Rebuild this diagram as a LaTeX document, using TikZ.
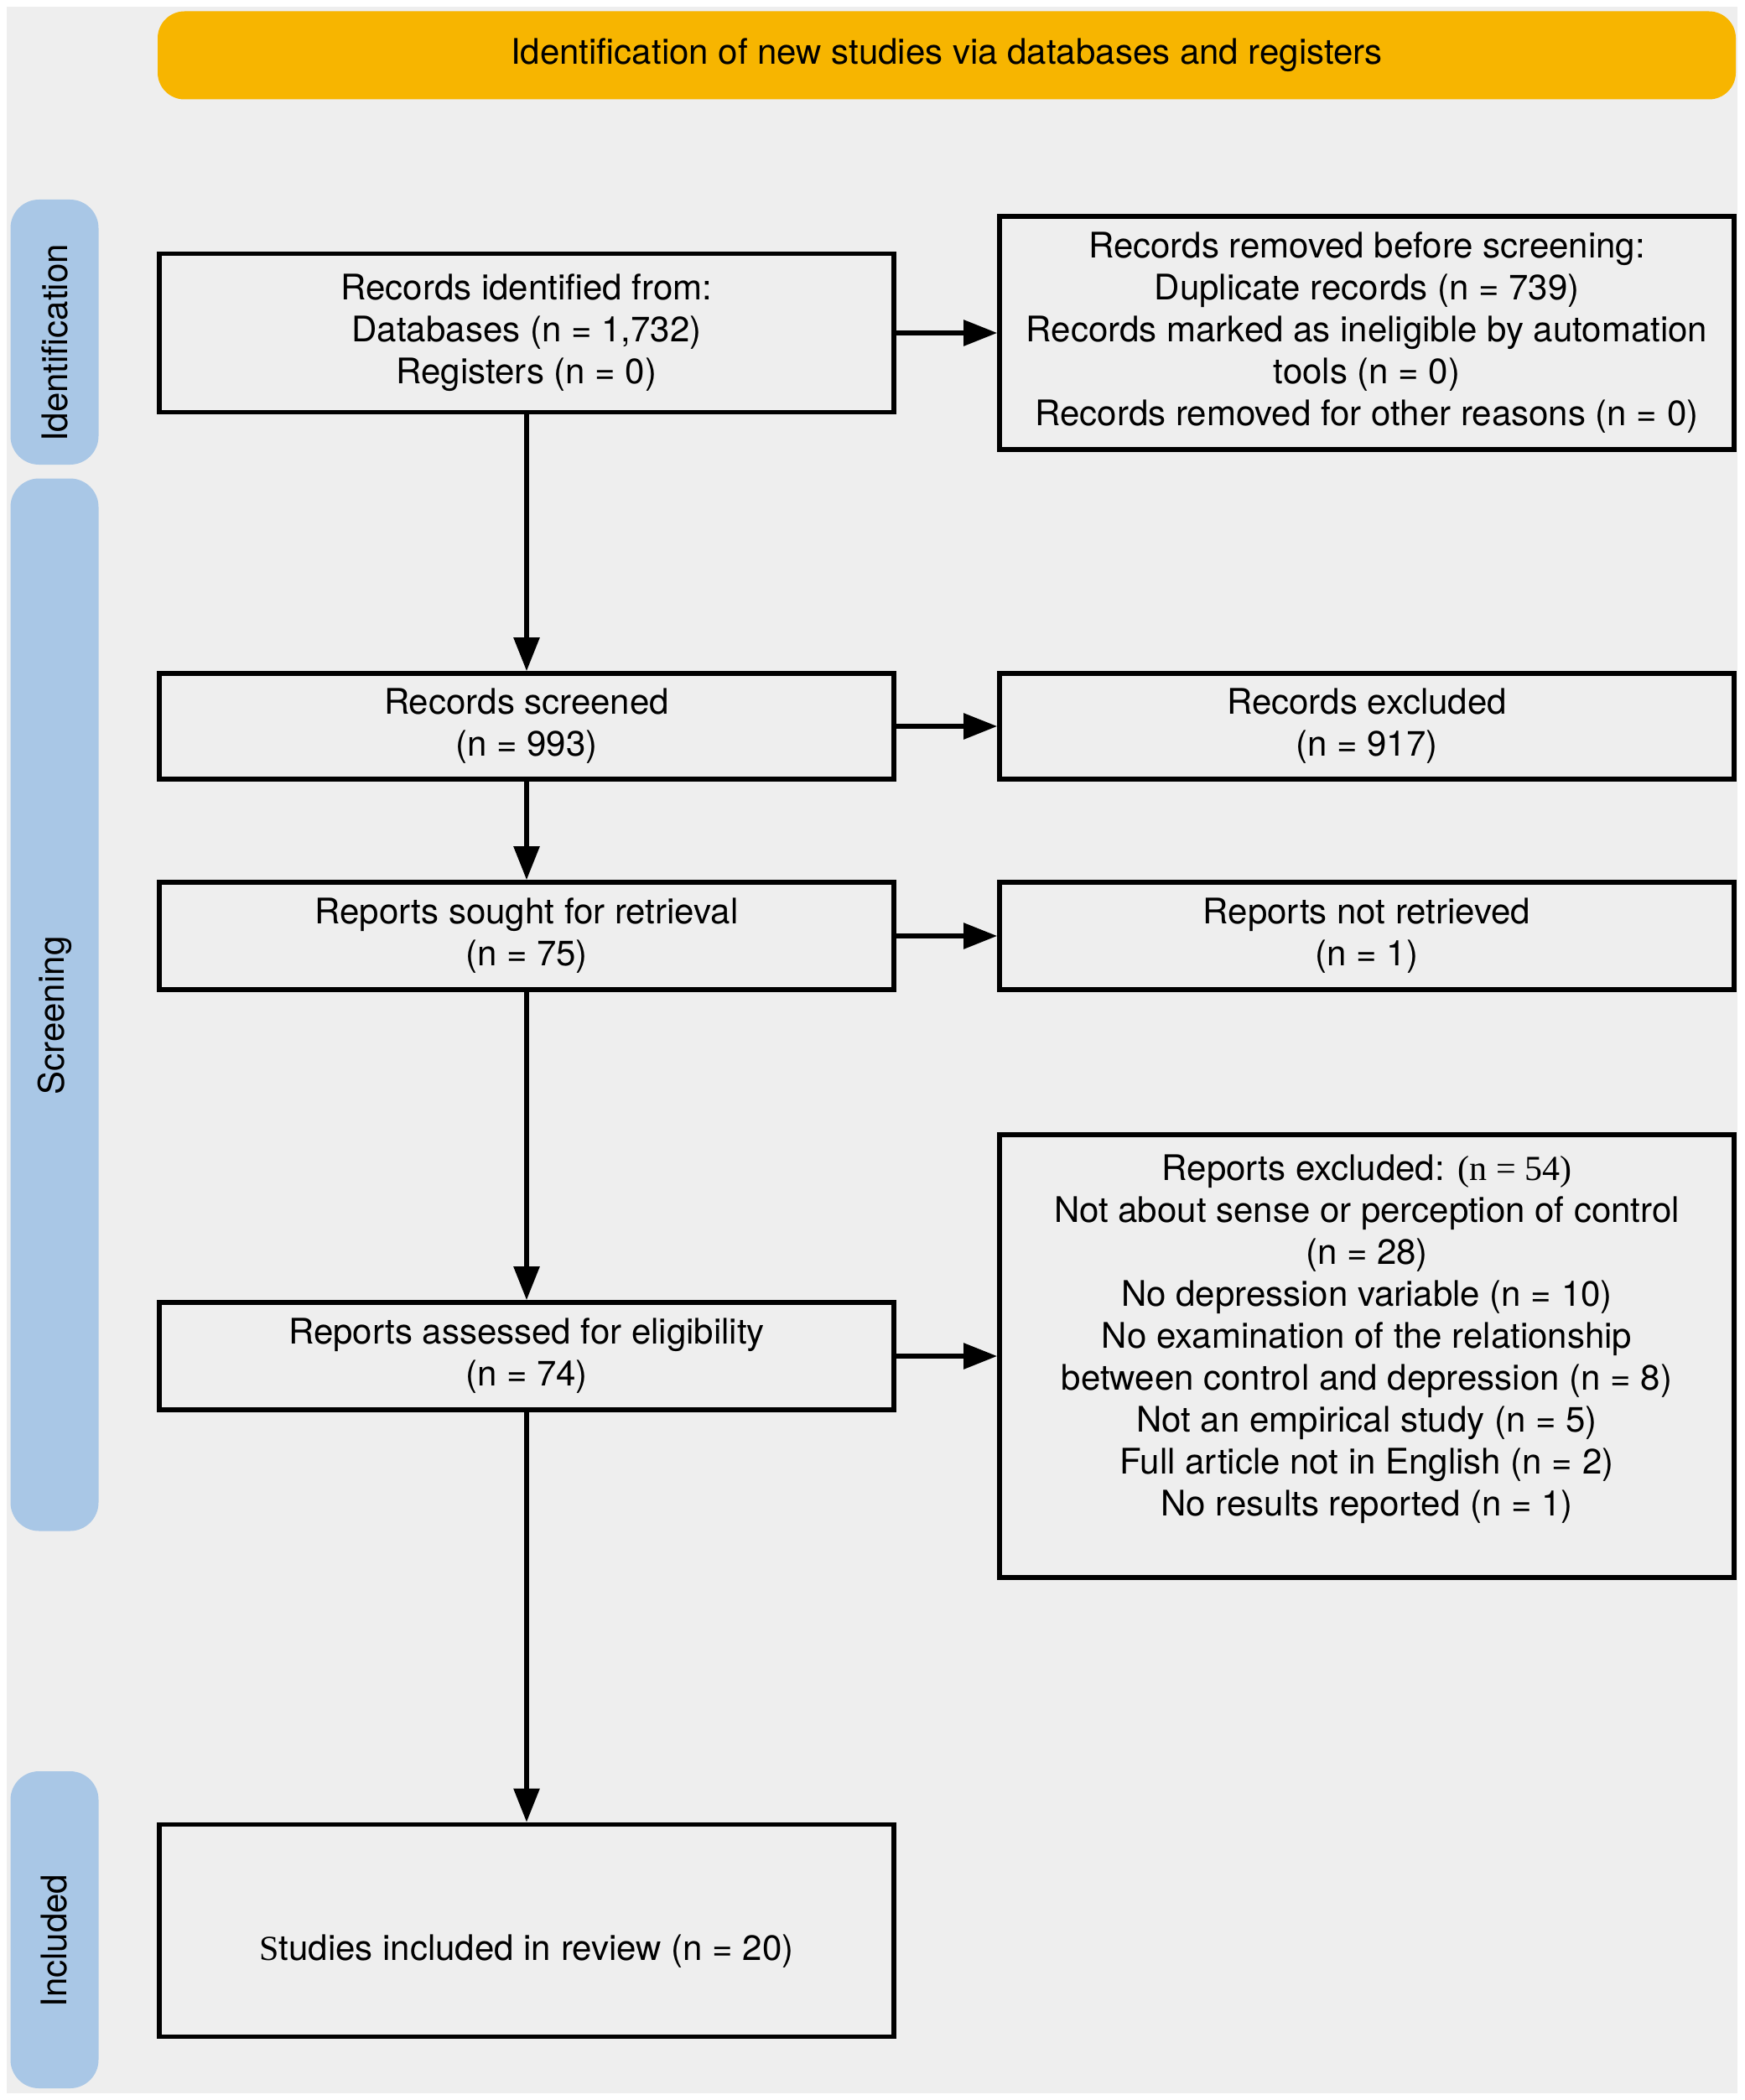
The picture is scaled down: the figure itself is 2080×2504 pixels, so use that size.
\documentclass[tikz,border=0pt]{standalone}
\usepackage{fontspec}
\setmainfont{TeX Gyre Heros}
\newfontfamily\serifpart{Liberation Serif}
\usetikzlibrary{arrows.meta}

\begin{document}
\begin{tikzpicture}[x=0.25pt,y=-0.25pt,font=\fontsize{10.5}{12.5}\selectfont,
  box/.style={draw,line width=1.4pt,align=center,minimum width=219pt,inner sep=2pt},
  stage/.style={fill=stageblue,rounded corners=8.5pt,rotate=90,minimum height=26.25pt,inner sep=0pt,execute at end node={\hspace{6.5pt}}},
  flow/.style={line width=1.4pt,-{Triangle[length=10pt,width=7.5pt]}}]
% Define PRISMA colours
\definecolor{bggray}{RGB}{238,238,238}
\definecolor{headorange}{RGB}{247,181,0}
\definecolor{stageblue}{RGB}{169,199,230}

% Draw background
\useasboundingbox (0,0) rectangle (2080,2504);
\fill[bggray] (8,8) rectangle (2072,2496);

% Draw header and stages
\node[fill=headorange,rounded corners=8pt,minimum width=470.5pt,minimum height=26.25pt] (head) at (1129,66) {Identification of new studies via databases and registers};
\node[stage,minimum width=79pt] (ident) at (65,396) {Identification};
\node[stage,minimum width=313.75pt] (screen) at (65,1198) {Screening};
\node[stage,minimum width=94.5pt] (incl) at (65,2301) {Included};

% Draw main column
\node[box,minimum height=47.25pt] (found) at (628,397) {Records identified from:\\Databases (n = 1,732)\\Registers (n = 0)};
\node[box,minimum height=31.5pt] (screened) at (628,866) {Records screened\\(n = 993)};
\node[box,minimum height=32pt] (sought) at (628,1116) {Reports sought for retrieval\\(n = 75)};
\node[box,minimum height=32pt] (assessed) at (628,1617) {Reports assessed for eligibility\\(n = 74)};
\node[box,minimum height=63.25pt,text height=20pt,text depth=2.5pt] (studies) at (628,2302) {{\serifpart S}tudies included in review (n = 20)};

% Draw side column
\node[box,minimum height=69.5pt] (removed) at (1630,397) {Records removed before screening:\\Duplicate records (n = 739)\\Records marked as ineligible by automation\\tools (n = 0)\\Records removed for other reasons (n = 0)};
\node[box,minimum height=31.5pt] (excluded) at (1630,866) {Records excluded\\(n = 917)};
\node[box,minimum height=32pt] (notret) at (1630,1116) {Reports not retrieved\\(n = 1)};
\node[box,minimum height=132pt] (repexcl) at (1630,1617) {Reports excluded: {\serifpart(n = 54)}\\Not about sense or perception of control\\(n = 28)\\No depression variable (n = 10)\\No examination of the relationship\\between control and depression (n = 8)\\Not an empirical study (n = 5)\\Full article not in English (n = 2)\\No results reported (n = 1)\\\mbox{}};

% Draw connections
\draw[flow] (found) -- (screened);
\draw[flow] (screened) -- (sought);
\draw[flow] (sought) -- (assessed);
\draw[flow] (assessed) -- (studies);
\draw[flow] (found) -- (removed);
\draw[flow] (screened) -- (excluded);
\draw[flow] (sought) -- (notret);
\draw[flow] (assessed) -- (repexcl);
\end{tikzpicture}
\end{document}
